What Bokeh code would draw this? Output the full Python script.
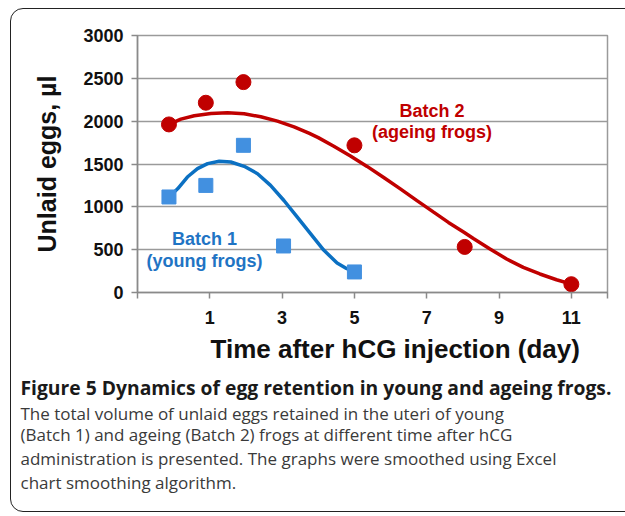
from bokeh.plotting import figure
from bokeh.models import Range1d, FixedTicker, Label, Title, InlineStyleSheet
from bokeh.embed import file_html
from bokeh.resources import INLINE

# ---- data ----
batch1_day = [-0.13, 0.89, 1.93, 3.04, 5.0]
batch1_eggs = [1115, 1250, 1718, 543, 240]

batch2_day = [-0.13, 0.89, 1.93, 5.0, 8.05, 11.0]
batch2_eggs = [1962, 2215, 2456, 1718, 532, 97]

# smoothed curves
curve1_day = [-0.13, 0.11, 0.38, 0.66, 0.94, 1.26, 1.58, 1.95, 2.32, 2.68,
              3.05, 3.42, 3.79, 4.15, 4.52, 4.78, 5.0]
curve1_eggs = [1115, 1211, 1348, 1446, 1504, 1532, 1523, 1473, 1387, 1250,
               1074, 879, 684, 495, 345, 280, 240]

curve2_day = [-0.13, 0.2, 0.57, 1.03, 1.49, 1.95, 2.41, 2.87, 3.33, 3.74,
              4.0, 4.43, 4.89, 5.35, 5.81, 6.27, 6.73, 7.19, 7.6, 8.04, 8.29,
              8.75, 9.21, 9.67, 10.13, 10.59, 11.0]
curve2_eggs = [1962, 2024, 2063, 2090, 2098, 2086, 2051, 2000, 1934, 1860,
               1808, 1708, 1594, 1472, 1343, 1210, 1073, 938, 818, 700, 630,
               509, 391, 293, 216, 149, 97]

x_ticks = [-1, 1, 3, 5, 7, 9, 11, 12]
x_tick_labels = {-1: "", 1: "1", 3: "3", 5: "5", 7: "7", 9: "9", 11: "11", 12: ""}
y_ticks = [0, 500, 1000, 1500, 2000, 2500, 3000]

x_title = "Time after hCG injection (day)"
y_title = "Unlaid eggs, \u00b5l"
label1 = ["Batch 1", "(young frogs)"]
label2 = ["Batch 2", "(ageing frogs)"]
caption_head = "Figure 5 Dynamics of egg retention in young and ageing frogs."
caption_lines = [
    "The total volume of unlaid eggs retained in the uteri of young",
    "(Batch 1) and ageing (Batch 2) frogs at different time after hCG",
    "administration is presented. The graphs were smoothed using Excel",
    "chart smoothing algorithm.",
]

# ---- layout ----
W, H = 625, 516
FL, FT, FW, FH = 137, 35, 470, 257
X0, X1, Y0, Y1 = -1, 12, 0, 3000

RED = "#c00000"
BLUE_LINE = "#0b70c2"
BLUE_MARK = "#4290e0"
BLUE_TEXT = "#1f74c4"
GRID = "#9a9a9a"
FONT = "Liberation Sans"


def dx(px):  # page pixel -> data x (for text placement only)
    return X0 + (px - FL) * (X1 - X0) / FW


def dy(py):  # page pixel -> data y (for text placement only)
    return (FT + FH - py) * (Y1 - Y0) / FH


box_css = InlineStyleSheet(css="""
:host { overflow: hidden; }
:host::after {
  content: "";
  position: absolute;
  left: 10px; top: 8px; right: -30px; bottom: 4px;
  border: 1.5px solid #222222;
  border-radius: 13px;
  pointer-events: none;
  z-index: 10;
}
""")

p = figure(width=W, height=H, output_backend="svg", toolbar_location=None,
           x_range=Range1d(X0, X1), y_range=Range1d(Y0, Y1),
           min_border_left=FL, min_border_top=FT,
           min_border_right=W - FL - FW, min_border_bottom=H - FT - FH,
           stylesheets=[box_css])

p.background_fill_color = "white"
p.border_fill_color = "white"
p.outline_line_color = GRID
p.outline_line_width = 1.5

for ax in (p.xaxis[0], p.yaxis[0]):
    ax.axis_line_color = "#8a8a8a"
    ax.axis_line_width = 1.5
    ax.major_tick_line_color = "#8a8a8a"
    ax.major_tick_line_width = 1.5
    ax.major_tick_in = 0
    ax.major_tick_out = 6
    ax.minor_tick_line_color = None
    ax.major_label_text_font = FONT
    ax.major_label_text_font_style = "bold"
    ax.major_label_text_font_size = "18px"
    ax.major_label_text_color = "#111111"

p.xaxis.ticker = FixedTicker(ticks=x_ticks)
p.xaxis.major_label_overrides = x_tick_labels
p.xaxis.major_label_standoff = 12
p.yaxis.ticker = FixedTicker(ticks=y_ticks)
p.yaxis.major_label_standoff = 8
p.yaxis.axis_label = y_title
p.yaxis.axis_label_text_font = FONT
p.yaxis.axis_label_text_font_style = "bold"
p.yaxis.axis_label_text_font_size = "25px"
p.yaxis.axis_label_text_color = "#111111"
p.yaxis.axis_label_standoff = 19

p.xgrid.visible = False
p.ygrid.ticker = FixedTicker(ticks=y_ticks)
p.ygrid.grid_line_color = GRID
p.ygrid.grid_line_width = 1.5

# curves
p.line(curve2_day, curve2_eggs, line_color=RED, line_width=3.5)
p.line(curve1_day, curve1_eggs, line_color=BLUE_LINE, line_width=3.5)

# markers
p.scatter(batch2_day, batch2_eggs, marker="circle", size=15,
          fill_color=RED, line_color=RED)
p.scatter(batch1_day, batch1_eggs, marker="square", size=14,
          fill_color=BLUE_MARK, line_color=BLUE_MARK)

# in-plot labels
for txt, py in zip(label2, (110, 131.5)):
    p.add_layout(Label(x=dx(431.5), y=dy(py), text=txt, text_align="center",
                       text_baseline="middle", text_font=FONT,
                       text_font_style="bold", text_font_size="18px",
                       text_color=RED))
for txt, py in zip(label1, (238, 260)):
    p.add_layout(Label(x=dx(204), y=dy(py), text=txt, text_align="center",
                       text_baseline="middle", text_font=FONT,
                       text_font_style="bold", text_font_size="18px",
                       text_color=BLUE_TEXT))

# x axis title and caption, stacked below the axis
p.add_layout(Title(text=x_title, align="left", offset=73, standoff=11,
                   text_font=FONT, text_font_style="bold",
                   text_font_size="26px", text_color="#111111"), "below")
p.add_layout(Title(text=caption_head, align="left", offset=-117, standoff=5,
                   text_font="Open Sans", text_font_style="bold",
                   text_font_size="19.3px", text_color="#1a1a1a"), "below")
for i, line in enumerate(caption_lines):
    p.add_layout(Title(text=line, align="left", offset=-117,
                       standoff=-7.5 if i == 0 else -1.2,
                       text_font="Open Sans", text_font_style="normal",
                       text_font_size="17px", text_color="#3a3a3a"), "below")

open("out.html", "w").write(file_html(p, INLINE))
